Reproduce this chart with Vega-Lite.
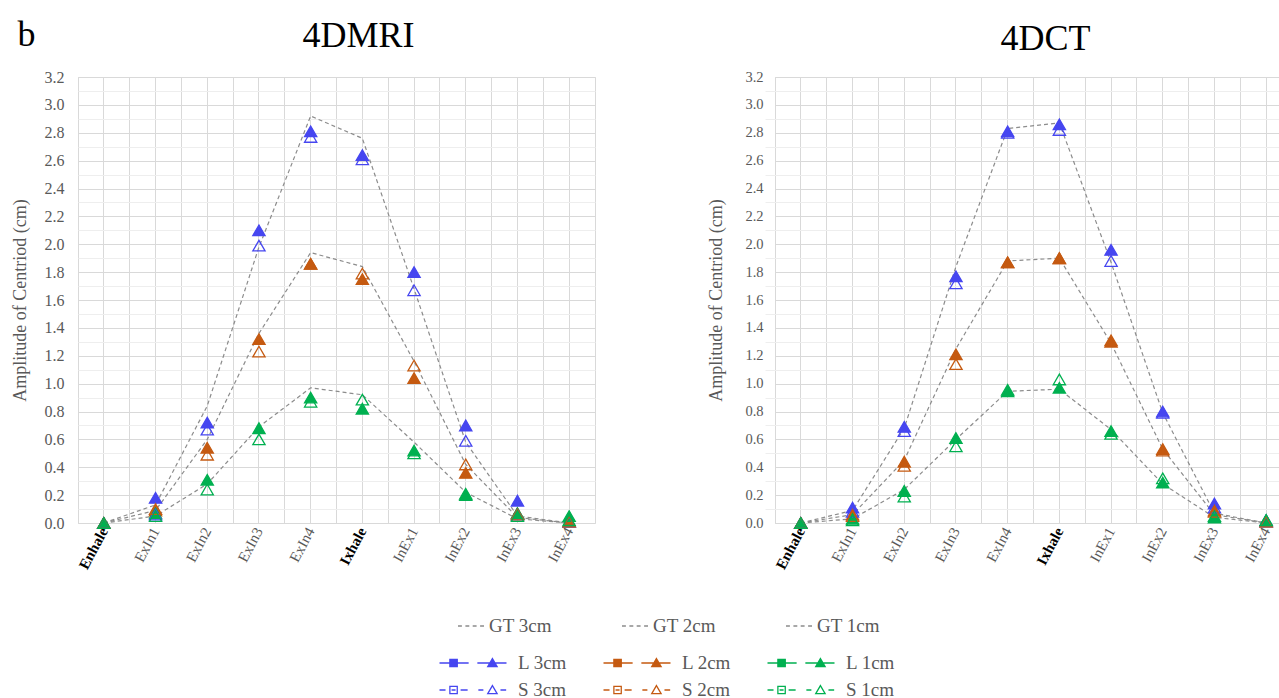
{
  "$schema": "https://vega.github.io/schema/vega-lite/v6.json",
  "background": "white",
  "padding": {"left": 10, "top": 16, "right": 0, "bottom": 0},
  "title": {"text": "b", "anchor": "start", "frame": "bounds", "fontSize": 36, "font": "Liberation Serif", "fontWeight": "normal", "color": "#000000", "offset": -36, "dx": 7},
  "config": {
    "view": {"stroke": "#d9d9d9"},
    "axis": {"gridColor": "#d9d9d9", "gridWidth": 1, "domain": false, "ticks": false, "labelColor": "#595959", "titleColor": "#595959", "titleFontWeight": "normal"},
    "axisQuantitative": {"labelFont": "Liberation Serif", "titleFont": "Liberation Serif"},
    "title": {"font": "Liberation Serif", "fontWeight": "normal", "color": "#000000"}
  },
  "datasets": {
    "amp": [
      {"chart": "4DMRI", "series": "GT 3cm", "phase": "Enhale", "value": 0},
      {"chart": "4DMRI", "series": "GT 3cm", "phase": "ExIn1", "value": 0.13},
      {"chart": "4DMRI", "series": "GT 3cm", "phase": "ExIn2", "value": 0.84},
      {"chart": "4DMRI", "series": "GT 3cm", "phase": "ExIn3", "value": 1.98},
      {"chart": "4DMRI", "series": "GT 3cm", "phase": "ExIn4", "value": 2.92},
      {"chart": "4DMRI", "series": "GT 3cm", "phase": "Ixhale", "value": 2.76},
      {"chart": "4DMRI", "series": "GT 3cm", "phase": "InEx1", "value": 1.68},
      {"chart": "4DMRI", "series": "GT 3cm", "phase": "InEx2", "value": 0.58},
      {"chart": "4DMRI", "series": "GT 3cm", "phase": "InEx3", "value": 0.05},
      {"chart": "4DMRI", "series": "GT 3cm", "phase": "InEx4", "value": 0},
      {"chart": "4DMRI", "series": "GT 2cm", "phase": "Enhale", "value": 0},
      {"chart": "4DMRI", "series": "GT 2cm", "phase": "ExIn1", "value": 0.09},
      {"chart": "4DMRI", "series": "GT 2cm", "phase": "ExIn2", "value": 0.6},
      {"chart": "4DMRI", "series": "GT 2cm", "phase": "ExIn3", "value": 1.36},
      {"chart": "4DMRI", "series": "GT 2cm", "phase": "ExIn4", "value": 1.94},
      {"chart": "4DMRI", "series": "GT 2cm", "phase": "Ixhale", "value": 1.84},
      {"chart": "4DMRI", "series": "GT 2cm", "phase": "InEx1", "value": 1.16},
      {"chart": "4DMRI", "series": "GT 2cm", "phase": "InEx2", "value": 0.42},
      {"chart": "4DMRI", "series": "GT 2cm", "phase": "InEx3", "value": 0.04},
      {"chart": "4DMRI", "series": "GT 2cm", "phase": "InEx4", "value": 0},
      {"chart": "4DMRI", "series": "GT 1cm", "phase": "Enhale", "value": 0},
      {"chart": "4DMRI", "series": "GT 1cm", "phase": "ExIn1", "value": 0.05},
      {"chart": "4DMRI", "series": "GT 1cm", "phase": "ExIn2", "value": 0.28},
      {"chart": "4DMRI", "series": "GT 1cm", "phase": "ExIn3", "value": 0.69},
      {"chart": "4DMRI", "series": "GT 1cm", "phase": "ExIn4", "value": 0.97},
      {"chart": "4DMRI", "series": "GT 1cm", "phase": "Ixhale", "value": 0.92},
      {"chart": "4DMRI", "series": "GT 1cm", "phase": "InEx1", "value": 0.58},
      {"chart": "4DMRI", "series": "GT 1cm", "phase": "InEx2", "value": 0.22},
      {"chart": "4DMRI", "series": "GT 1cm", "phase": "InEx3", "value": 0.03},
      {"chart": "4DMRI", "series": "GT 1cm", "phase": "InEx4", "value": 0},
      {"chart": "4DMRI", "series": "L 3cm", "phase": "Enhale", "value": 0},
      {"chart": "4DMRI", "series": "L 3cm", "phase": "ExIn1", "value": 0.18},
      {"chart": "4DMRI", "series": "L 3cm", "phase": "ExIn2", "value": 0.72},
      {"chart": "4DMRI", "series": "L 3cm", "phase": "ExIn3", "value": 2.1},
      {"chart": "4DMRI", "series": "L 3cm", "phase": "ExIn4", "value": 2.81},
      {"chart": "4DMRI", "series": "L 3cm", "phase": "Ixhale", "value": 2.64},
      {"chart": "4DMRI", "series": "L 3cm", "phase": "InEx1", "value": 1.8},
      {"chart": "4DMRI", "series": "L 3cm", "phase": "InEx2", "value": 0.7},
      {"chart": "4DMRI", "series": "L 3cm", "phase": "InEx3", "value": 0.16},
      {"chart": "4DMRI", "series": "L 3cm", "phase": "InEx4", "value": 0.01},
      {"chart": "4DMRI", "series": "L 2cm", "phase": "Enhale", "value": 0},
      {"chart": "4DMRI", "series": "L 2cm", "phase": "ExIn1", "value": 0.09},
      {"chart": "4DMRI", "series": "L 2cm", "phase": "ExIn2", "value": 0.54},
      {"chart": "4DMRI", "series": "L 2cm", "phase": "ExIn3", "value": 1.32},
      {"chart": "4DMRI", "series": "L 2cm", "phase": "ExIn4", "value": 1.86},
      {"chart": "4DMRI", "series": "L 2cm", "phase": "Ixhale", "value": 1.75},
      {"chart": "4DMRI", "series": "L 2cm", "phase": "InEx1", "value": 1.04},
      {"chart": "4DMRI", "series": "L 2cm", "phase": "InEx2", "value": 0.36},
      {"chart": "4DMRI", "series": "L 2cm", "phase": "InEx3", "value": 0.07},
      {"chart": "4DMRI", "series": "L 2cm", "phase": "InEx4", "value": 0.01},
      {"chart": "4DMRI", "series": "L 1cm", "phase": "Enhale", "value": 0},
      {"chart": "4DMRI", "series": "L 1cm", "phase": "ExIn1", "value": 0.07},
      {"chart": "4DMRI", "series": "L 1cm", "phase": "ExIn2", "value": 0.31},
      {"chart": "4DMRI", "series": "L 1cm", "phase": "ExIn3", "value": 0.68},
      {"chart": "4DMRI", "series": "L 1cm", "phase": "ExIn4", "value": 0.9},
      {"chart": "4DMRI", "series": "L 1cm", "phase": "Ixhale", "value": 0.82},
      {"chart": "4DMRI", "series": "L 1cm", "phase": "InEx1", "value": 0.52},
      {"chart": "4DMRI", "series": "L 1cm", "phase": "InEx2", "value": 0.2},
      {"chart": "4DMRI", "series": "L 1cm", "phase": "InEx3", "value": 0.07},
      {"chart": "4DMRI", "series": "L 1cm", "phase": "InEx4", "value": 0.05},
      {"chart": "4DMRI", "series": "S 3cm", "phase": "Enhale", "value": 0},
      {"chart": "4DMRI", "series": "S 3cm", "phase": "ExIn1", "value": 0.06},
      {"chart": "4DMRI", "series": "S 3cm", "phase": "ExIn2", "value": 0.67},
      {"chart": "4DMRI", "series": "S 3cm", "phase": "ExIn3", "value": 1.99},
      {"chart": "4DMRI", "series": "S 3cm", "phase": "ExIn4", "value": 2.77},
      {"chart": "4DMRI", "series": "S 3cm", "phase": "Ixhale", "value": 2.61},
      {"chart": "4DMRI", "series": "S 3cm", "phase": "InEx1", "value": 1.67},
      {"chart": "4DMRI", "series": "S 3cm", "phase": "InEx2", "value": 0.59},
      {"chart": "4DMRI", "series": "S 3cm", "phase": "InEx3", "value": 0.06},
      {"chart": "4DMRI", "series": "S 3cm", "phase": "InEx4", "value": 0.01},
      {"chart": "4DMRI", "series": "S 2cm", "phase": "Enhale", "value": 0},
      {"chart": "4DMRI", "series": "S 2cm", "phase": "ExIn1", "value": 0.1},
      {"chart": "4DMRI", "series": "S 2cm", "phase": "ExIn2", "value": 0.49},
      {"chart": "4DMRI", "series": "S 2cm", "phase": "ExIn3", "value": 1.23},
      {"chart": "4DMRI", "series": "S 2cm", "phase": "ExIn4", "value": 1.86},
      {"chart": "4DMRI", "series": "S 2cm", "phase": "Ixhale", "value": 1.79},
      {"chart": "4DMRI", "series": "S 2cm", "phase": "InEx1", "value": 1.13},
      {"chart": "4DMRI", "series": "S 2cm", "phase": "InEx2", "value": 0.42},
      {"chart": "4DMRI", "series": "S 2cm", "phase": "InEx3", "value": 0.06},
      {"chart": "4DMRI", "series": "S 2cm", "phase": "InEx4", "value": 0.01},
      {"chart": "4DMRI", "series": "S 1cm", "phase": "Enhale", "value": 0},
      {"chart": "4DMRI", "series": "S 1cm", "phase": "ExIn1", "value": 0.05},
      {"chart": "4DMRI", "series": "S 1cm", "phase": "ExIn2", "value": 0.24},
      {"chart": "4DMRI", "series": "S 1cm", "phase": "ExIn3", "value": 0.6},
      {"chart": "4DMRI", "series": "S 1cm", "phase": "ExIn4", "value": 0.87},
      {"chart": "4DMRI", "series": "S 1cm", "phase": "Ixhale", "value": 0.885},
      {"chart": "4DMRI", "series": "S 1cm", "phase": "InEx1", "value": 0.5},
      {"chart": "4DMRI", "series": "S 1cm", "phase": "InEx2", "value": 0.21},
      {"chart": "4DMRI", "series": "S 1cm", "phase": "InEx3", "value": 0.05},
      {"chart": "4DMRI", "series": "S 1cm", "phase": "InEx4", "value": 0.02},
      {"chart": "4DCT", "series": "GT 3cm", "phase": "Enhale", "value": 0},
      {"chart": "4DCT", "series": "GT 3cm", "phase": "ExIn1", "value": 0.09},
      {"chart": "4DCT", "series": "GT 3cm", "phase": "ExIn2", "value": 0.68},
      {"chart": "4DCT", "series": "GT 3cm", "phase": "ExIn3", "value": 1.84},
      {"chart": "4DCT", "series": "GT 3cm", "phase": "ExIn4", "value": 2.83},
      {"chart": "4DCT", "series": "GT 3cm", "phase": "Ixhale", "value": 2.87},
      {"chart": "4DCT", "series": "GT 3cm", "phase": "InEx1", "value": 1.87},
      {"chart": "4DCT", "series": "GT 3cm", "phase": "InEx2", "value": 0.79},
      {"chart": "4DCT", "series": "GT 3cm", "phase": "InEx3", "value": 0.07},
      {"chart": "4DCT", "series": "GT 3cm", "phase": "InEx4", "value": 0},
      {"chart": "4DCT", "series": "GT 2cm", "phase": "Enhale", "value": 0},
      {"chart": "4DCT", "series": "GT 2cm", "phase": "ExIn1", "value": 0.06},
      {"chart": "4DCT", "series": "GT 2cm", "phase": "ExIn2", "value": 0.45},
      {"chart": "4DCT", "series": "GT 2cm", "phase": "ExIn3", "value": 1.25},
      {"chart": "4DCT", "series": "GT 2cm", "phase": "ExIn4", "value": 1.88},
      {"chart": "4DCT", "series": "GT 2cm", "phase": "Ixhale", "value": 1.9},
      {"chart": "4DCT", "series": "GT 2cm", "phase": "InEx1", "value": 1.29},
      {"chart": "4DCT", "series": "GT 2cm", "phase": "InEx2", "value": 0.53},
      {"chart": "4DCT", "series": "GT 2cm", "phase": "InEx3", "value": 0.06},
      {"chart": "4DCT", "series": "GT 2cm", "phase": "InEx4", "value": 0},
      {"chart": "4DCT", "series": "GT 1cm", "phase": "Enhale", "value": 0},
      {"chart": "4DCT", "series": "GT 1cm", "phase": "ExIn1", "value": 0.03},
      {"chart": "4DCT", "series": "GT 1cm", "phase": "ExIn2", "value": 0.24},
      {"chart": "4DCT", "series": "GT 1cm", "phase": "ExIn3", "value": 0.6},
      {"chart": "4DCT", "series": "GT 1cm", "phase": "ExIn4", "value": 0.945},
      {"chart": "4DCT", "series": "GT 1cm", "phase": "Ixhale", "value": 0.96},
      {"chart": "4DCT", "series": "GT 1cm", "phase": "InEx1", "value": 0.67},
      {"chart": "4DCT", "series": "GT 1cm", "phase": "InEx2", "value": 0.28},
      {"chart": "4DCT", "series": "GT 1cm", "phase": "InEx3", "value": 0.04},
      {"chart": "4DCT", "series": "GT 1cm", "phase": "InEx4", "value": 0},
      {"chart": "4DCT", "series": "L 3cm", "phase": "Enhale", "value": 0},
      {"chart": "4DCT", "series": "L 3cm", "phase": "ExIn1", "value": 0.11},
      {"chart": "4DCT", "series": "L 3cm", "phase": "ExIn2", "value": 0.69},
      {"chart": "4DCT", "series": "L 3cm", "phase": "ExIn3", "value": 1.77},
      {"chart": "4DCT", "series": "L 3cm", "phase": "ExIn4", "value": 2.81},
      {"chart": "4DCT", "series": "L 3cm", "phase": "Ixhale", "value": 2.86},
      {"chart": "4DCT", "series": "L 3cm", "phase": "InEx1", "value": 1.96},
      {"chart": "4DCT", "series": "L 3cm", "phase": "InEx2", "value": 0.8},
      {"chart": "4DCT", "series": "L 3cm", "phase": "InEx3", "value": 0.14},
      {"chart": "4DCT", "series": "L 3cm", "phase": "InEx4", "value": 0.02},
      {"chart": "4DCT", "series": "L 2cm", "phase": "Enhale", "value": 0},
      {"chart": "4DCT", "series": "L 2cm", "phase": "ExIn1", "value": 0.06},
      {"chart": "4DCT", "series": "L 2cm", "phase": "ExIn2", "value": 0.44},
      {"chart": "4DCT", "series": "L 2cm", "phase": "ExIn3", "value": 1.21},
      {"chart": "4DCT", "series": "L 2cm", "phase": "ExIn4", "value": 1.87},
      {"chart": "4DCT", "series": "L 2cm", "phase": "Ixhale", "value": 1.9},
      {"chart": "4DCT", "series": "L 2cm", "phase": "InEx1", "value": 1.3},
      {"chart": "4DCT", "series": "L 2cm", "phase": "InEx2", "value": 0.53},
      {"chart": "4DCT", "series": "L 2cm", "phase": "InEx3", "value": 0.09},
      {"chart": "4DCT", "series": "L 2cm", "phase": "InEx4", "value": 0.01},
      {"chart": "4DCT", "series": "L 1cm", "phase": "Enhale", "value": 0},
      {"chart": "4DCT", "series": "L 1cm", "phase": "ExIn1", "value": 0.03},
      {"chart": "4DCT", "series": "L 1cm", "phase": "ExIn2", "value": 0.23},
      {"chart": "4DCT", "series": "L 1cm", "phase": "ExIn3", "value": 0.61},
      {"chart": "4DCT", "series": "L 1cm", "phase": "ExIn4", "value": 0.945},
      {"chart": "4DCT", "series": "L 1cm", "phase": "Ixhale", "value": 0.97},
      {"chart": "4DCT", "series": "L 1cm", "phase": "InEx1", "value": 0.66},
      {"chart": "4DCT", "series": "L 1cm", "phase": "InEx2", "value": 0.29},
      {"chart": "4DCT", "series": "L 1cm", "phase": "InEx3", "value": 0.04},
      {"chart": "4DCT", "series": "L 1cm", "phase": "InEx4", "value": 0.02},
      {"chart": "4DCT", "series": "S 3cm", "phase": "Enhale", "value": 0},
      {"chart": "4DCT", "series": "S 3cm", "phase": "ExIn1", "value": 0.08},
      {"chart": "4DCT", "series": "S 3cm", "phase": "ExIn2", "value": 0.66},
      {"chart": "4DCT", "series": "S 3cm", "phase": "ExIn3", "value": 1.72},
      {"chart": "4DCT", "series": "S 3cm", "phase": "ExIn4", "value": 2.8},
      {"chart": "4DCT", "series": "S 3cm", "phase": "Ixhale", "value": 2.82},
      {"chart": "4DCT", "series": "S 3cm", "phase": "InEx1", "value": 1.88},
      {"chart": "4DCT", "series": "S 3cm", "phase": "InEx2", "value": 0.79},
      {"chart": "4DCT", "series": "S 3cm", "phase": "InEx3", "value": 0.11},
      {"chart": "4DCT", "series": "S 3cm", "phase": "InEx4", "value": 0.01},
      {"chart": "4DCT", "series": "S 2cm", "phase": "Enhale", "value": 0},
      {"chart": "4DCT", "series": "S 2cm", "phase": "ExIn1", "value": 0.05},
      {"chart": "4DCT", "series": "S 2cm", "phase": "ExIn2", "value": 0.41},
      {"chart": "4DCT", "series": "S 2cm", "phase": "ExIn3", "value": 1.14},
      {"chart": "4DCT", "series": "S 2cm", "phase": "ExIn4", "value": 1.87},
      {"chart": "4DCT", "series": "S 2cm", "phase": "Ixhale", "value": 1.9},
      {"chart": "4DCT", "series": "S 2cm", "phase": "InEx1", "value": 1.31},
      {"chart": "4DCT", "series": "S 2cm", "phase": "InEx2", "value": 0.52},
      {"chart": "4DCT", "series": "S 2cm", "phase": "InEx3", "value": 0.08},
      {"chart": "4DCT", "series": "S 2cm", "phase": "InEx4", "value": 0.01},
      {"chart": "4DCT", "series": "S 1cm", "phase": "Enhale", "value": 0},
      {"chart": "4DCT", "series": "S 1cm", "phase": "ExIn1", "value": 0.02},
      {"chart": "4DCT", "series": "S 1cm", "phase": "ExIn2", "value": 0.19},
      {"chart": "4DCT", "series": "S 1cm", "phase": "ExIn3", "value": 0.55},
      {"chart": "4DCT", "series": "S 1cm", "phase": "ExIn4", "value": 0.955},
      {"chart": "4DCT", "series": "S 1cm", "phase": "Ixhale", "value": 1.03},
      {"chart": "4DCT", "series": "S 1cm", "phase": "InEx1", "value": 0.64},
      {"chart": "4DCT", "series": "S 1cm", "phase": "InEx2", "value": 0.32},
      {"chart": "4DCT", "series": "S 1cm", "phase": "InEx3", "value": 0.05},
      {"chart": "4DCT", "series": "S 1cm", "phase": "InEx4", "value": 0.02}
    ],
    "key": [
      {"series": "GT 3cm", "row": "GT", "col": "3cm"},
      {"series": "GT 2cm", "row": "GT", "col": "2cm"},
      {"series": "GT 1cm", "row": "GT", "col": "1cm"},
      {"series": "L 3cm", "row": "L", "col": "3cm"},
      {"series": "L 2cm", "row": "L", "col": "2cm"},
      {"series": "L 1cm", "row": "L", "col": "1cm"},
      {"series": "S 3cm", "row": "S", "col": "3cm"},
      {"series": "S 2cm", "row": "S", "col": "2cm"},
      {"series": "S 1cm", "row": "S", "col": "1cm"}
    ]
  },
  "vconcat": [
    {
      "hconcat": [
        {
          "width": 517,
          "height": 446,
          "title": {"text": "4DMRI", "fontSize": 36, "frame": "group", "anchor": "middle", "dx": 22, "offset": 14},
          "data": {"name": "amp"},
          "transform": [{"filter": "datum.chart == '4DMRI'"}],
          "layer": [
            {
              "transform": [{"filter": "indexof(datum.series, 'GT') == 0"}],
              "mark": {"type": "line", "color": "#8c8c8c", "strokeWidth": 1.2, "strokeDash": [4, 3], "opacity": 1},
              "encoding": {
                "x": {"field": "phase", "type": "nominal", "sort": ["Enhale", "ExIn1", "ExIn2", "ExIn3", "ExIn4", "Ixhale", "InEx1", "InEx2", "InEx3", "InEx4"], "scale": {"type": "band", "paddingInner": 0, "paddingOuter": 0},
                  "axis": {"orient": "top", "bandPosition": 0, "grid": true, "labels": false, "ticks": false, "domain": false, "title": null, "minExtent": 0, "maxExtent": 0}},
                "y": {"field": "value", "type": "quantitative", "scale": {"domain": [0, 3.2], "nice": false},
                  "axis": {"orient": "left", "values": [0, 0.2, 0.4, 0.6, 0.8, 1.0, 1.2, 1.4, 1.6, 1.8, 2.0, 2.2, 2.4, 2.6, 2.8, 3.0, 3.2], "format": ".1f", "grid": true,
                    "labelFont": "Liberation Serif, serif", "labelFontSize": 16, "labelPadding": 14,
                    "title": "Amplitude of Centriod (cm)", "titleFont": "Liberation Serif, serif", "titleFontSize": 18, "titlePadding": 15}},
                "detail": {"field": "series"}
              }
            },
            {
              "transform": [{"filter": "indexof(datum.series, 'GT') != 0"}],
              "mark": {"type": "point", "shape": "triangle-up", "size": 150, "filled": true, "strokeWidth": 1.3, "opacity": 1},
              "encoding": {
                "x": {"field": "phase", "type": "nominal", "sort": ["Enhale", "ExIn1", "ExIn2", "ExIn3", "ExIn4", "Ixhale", "InEx1", "InEx2", "InEx3", "InEx4"], "scale": {"type": "band", "paddingInner": 0, "paddingOuter": 0},
                  "axis": {"orient": "bottom", "grid": true, "title": null, "labelAngle": -62, "labelFont": "Liberation Serif", "labelFontSize": 15, "labelPadding": 5,
                    "labelFontWeight": {"condition": {"test": "datum.value == 'Enhale' || datum.value == 'Ixhale'", "value": "bold"}, "value": "normal"},
                    "labelColor": {"condition": {"test": "datum.value == 'Enhale' || datum.value == 'Ixhale'", "value": "#000000"}, "value": "#595959"}}},
                "y": {"field": "value", "type": "quantitative", "scale": {"domain": [0, 3.2], "nice": false},
                  "axis": {"orient": "right", "values": [0.1, 0.3, 0.5, 0.7, 0.9, 1.1, 1.3, 1.5, 1.7, 1.9, 2.1, 2.3, 2.5, 2.7, 2.9, 3.1], "grid": true, "gridColor": "#eeeeee", "labels": false, "ticks": false, "domain": false, "title": null, "minExtent": 0, "maxExtent": 0}},
                "fill": {"field": "series", "type": "nominal", "scale": {"domain": ["L 3cm", "S 3cm", "L 2cm", "S 2cm", "L 1cm", "S 1cm"], "range": ["#4646f0", "transparent", "#c55a11", "transparent", "#00b050", "transparent"]}, "legend": null},
                "stroke": {"field": "series", "type": "nominal", "scale": {"domain": ["L 3cm", "S 3cm", "L 2cm", "S 2cm", "L 1cm", "S 1cm"], "range": ["#4646f0", "#4646f0", "#c55a11", "#c55a11", "#00b050", "#00b050"]}, "legend": null}
              }
            }
          ],
          "resolve": {"axis": {"x": "independent", "y": "independent"}}
        },
        {
          "width": 507,
          "height": 446,
          "title": {"text": "4DCT", "fontSize": 36, "frame": "group", "anchor": "middle", "dx": 17, "offset": 11},
          "data": {"name": "amp"},
          "transform": [{"filter": "datum.chart == '4DCT'"}],
          "layer": [
            {
              "transform": [{"filter": "indexof(datum.series, 'GT') == 0"}],
              "mark": {"type": "line", "color": "#8c8c8c", "strokeWidth": 1.2, "strokeDash": [4, 3], "opacity": 1},
              "encoding": {
                "x": {"field": "phase", "type": "nominal", "sort": ["Enhale", "ExIn1", "ExIn2", "ExIn3", "ExIn4", "Ixhale", "InEx1", "InEx2", "InEx3", "InEx4"], "scale": {"type": "band", "paddingInner": 0, "paddingOuter": 0, "range": [0, 517]},
                  "axis": {"orient": "top", "bandPosition": 0, "grid": true, "labels": false, "ticks": false, "domain": false, "title": null, "minExtent": 0, "maxExtent": 0}},
                "y": {"field": "value", "type": "quantitative", "scale": {"domain": [0, 3.2], "nice": false},
                  "axis": {"orient": "left", "values": [0, 0.2, 0.4, 0.6, 0.8, 1.0, 1.2, 1.4, 1.6, 1.8, 2.0, 2.2, 2.4, 2.6, 2.8, 3.0, 3.2], "format": ".1f", "grid": true,
                    "labelFont": "Liberation Serif, serif", "labelFontSize": 14.5, "labelPadding": 12,
                    "title": "Amplitude of Centriod (cm)", "titleFont": "Liberation Serif, serif", "titleFontSize": 18, "titlePadding": 19}},
                "detail": {"field": "series"}
              }
            },
            {
              "transform": [{"filter": "indexof(datum.series, 'GT') != 0"}],
              "mark": {"type": "point", "shape": "triangle-up", "size": 150, "filled": true, "strokeWidth": 1.3, "opacity": 1},
              "encoding": {
                "x": {"field": "phase", "type": "nominal", "sort": ["Enhale", "ExIn1", "ExIn2", "ExIn3", "ExIn4", "Ixhale", "InEx1", "InEx2", "InEx3", "InEx4"], "scale": {"type": "band", "paddingInner": 0, "paddingOuter": 0, "range": [0, 517]},
                  "axis": {"orient": "bottom", "grid": true, "title": null, "labelAngle": -62, "labelFont": "Liberation Serif", "labelFontSize": 15, "labelPadding": 5,
                    "labelFontWeight": {"condition": {"test": "datum.value == 'Enhale' || datum.value == 'Ixhale'", "value": "bold"}, "value": "normal"},
                    "labelColor": {"condition": {"test": "datum.value == 'Enhale' || datum.value == 'Ixhale'", "value": "#000000"}, "value": "#595959"}}},
                "y": {"field": "value", "type": "quantitative", "scale": {"domain": [0, 3.2], "nice": false},
                  "axis": {"orient": "right", "values": [0.1, 0.3, 0.5, 0.7, 0.9, 1.1, 1.3, 1.5, 1.7, 1.9, 2.1, 2.3, 2.5, 2.7, 2.9, 3.1], "grid": true, "gridColor": "#eeeeee", "labels": false, "ticks": false, "domain": false, "title": null, "minExtent": 0, "maxExtent": 0}},
                "fill": {"field": "series", "type": "nominal", "scale": {"domain": ["L 3cm", "S 3cm", "L 2cm", "S 2cm", "L 1cm", "S 1cm"], "range": ["#4646f0", "transparent", "#c55a11", "transparent", "#00b050", "transparent"]}, "legend": null},
                "stroke": {"field": "series", "type": "nominal", "scale": {"domain": ["L 3cm", "S 3cm", "L 2cm", "S 2cm", "L 1cm", "S 1cm"], "range": ["#4646f0", "#4646f0", "#c55a11", "#c55a11", "#00b050", "#00b050"]}, "legend": null}
              }
            }
          ],
          "resolve": {"axis": {"x": "independent", "y": "independent"}}
        }
      ],
      "spacing": 111
    },
    {
      "width": 800,
      "height": 54,
      "view": {"stroke": null},
      "data": {"name": "key"},
      "encoding": {
        "x": {"field": "col", "type": "nominal", "sort": ["3cm", "2cm", "1cm"], "scale": {"type": "point", "padding": 0, "range": [440, 768]}, "axis": null},
        "y": {"field": "row", "type": "nominal", "sort": ["GT", "L", "S"], "scale": {"type": "point", "padding": 0}, "axis": null}
      },
      "layer": [
        {
          "transform": [{"filter": "datum.row == 'GT'"}],
          "mark": {"type": "point", "shape": "M-1,0H-0.7M-0.43,0H-0.13M0.13,0H0.43M0.7,0H1", "size": 676, "filled": false, "stroke": "#8c8c8c", "strokeWidth": 1.3, "opacity": 1, "xOffset": -47, "yOffset": -10}
        },
        {
          "transform": [{"filter": "datum.row != 'GT'"}],
          "mark": {"type": "point", "size": 4489, "filled": true, "strokeWidth": 1.3, "opacity": 1, "xOffset": -45},
          "encoding": {
            "shape": {"field": "row", "type": "nominal", "scale": {"domain": ["L", "S"], "range": ["M-1,0H-0.13M0.13,0H1M-0.69,-0.11H-0.47V0.11H-0.69ZM0.58,-0.13L0.72,0.11H0.44Z", "M-1,0H-0.82M-0.64,0H-0.52M-0.37,0H-0.16M0.16,0H0.31M0.82,0H0.99M-0.69,-0.11H-0.47V0.11H-0.69ZM0.58,-0.13L0.72,0.11H0.44Z"]}, "legend": null},
            "fill": {"field": "series", "type": "nominal", "scale": {"domain": ["L 3cm", "S 3cm", "L 2cm", "S 2cm", "L 1cm", "S 1cm"], "range": ["#4646f0", "transparent", "#c55a11", "transparent", "#00b050", "transparent"]}, "legend": null},
            "stroke": {"field": "series", "type": "nominal", "scale": {"domain": ["L 3cm", "S 3cm", "L 2cm", "S 2cm", "L 1cm", "S 1cm"], "range": ["#4646f0", "#4646f0", "#c55a11", "#c55a11", "#00b050", "#00b050"]}, "legend": null}
          }
        },
        {
          "transform": [{"filter": "datum.row == 'GT'"}],
          "mark": {"type": "text", "align": "left", "baseline": "middle", "dx": -29, "dy": -10, "fontSize": 19, "color": "#595959", "font": "Liberation Serif"},
          "encoding": {"text": {"field": "series"}}
        },
        {
          "transform": [{"filter": "datum.row != 'GT'"}],
          "mark": {"type": "text", "align": "left", "baseline": "middle", "fontSize": 19, "color": "#595959", "font": "Liberation Serif"},
          "encoding": {"text": {"field": "series"}}
        }
      ]
    }
  ],
  "spacing": 44
}
